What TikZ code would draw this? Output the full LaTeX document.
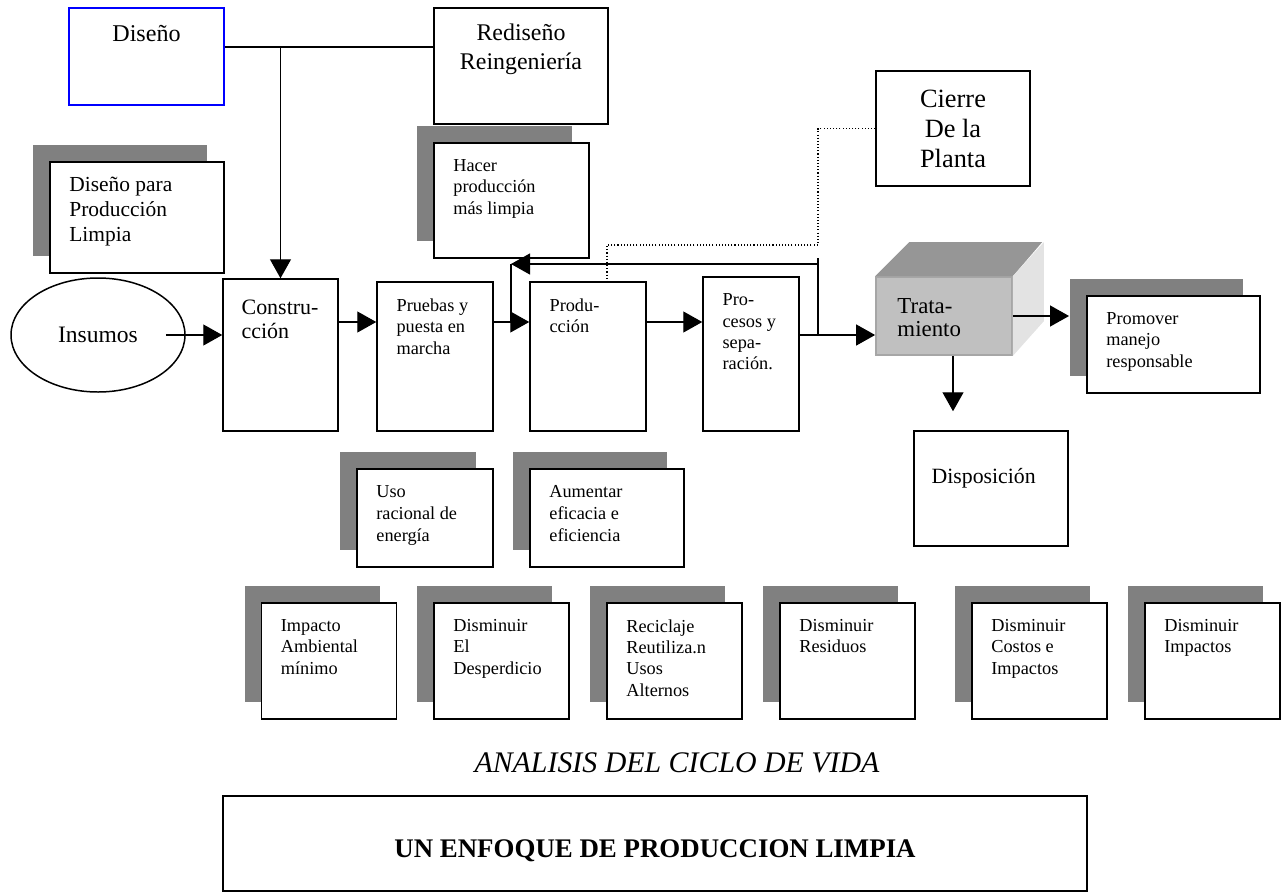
\documentclass[tikz,border=0pt]{standalone}
\usepackage{fontspec}
\setmainfont{Liberation Serif}
\usetikzlibrary{arrows.meta,positioning,shadows,shapes.geometric}
\definecolor{shadowgray}{HTML}{808080}
\definecolor{frontgray}{HTML}{C0C0C0}
\definecolor{topgray}{HTML}{969696}
\definecolor{sidegray}{HTML}{E3E3E3}
\newcommand{\setsz}[2]{\fontsize{#1}{#2}\selectfont}
\tikzset{
  box/.style={draw, line width=0.85pt, inner sep=0pt},
  shbox/.style={box, line width=1.1pt, fill=white,
    drop shadow={shadow xshift=-3.4mm, shadow yshift=3.4mm, fill=shadowgray, opacity=1}},
  txt/.style={inner sep=0pt, align=left, font=\setsz{10.4}{12.2}},
  inbox/.style={below right=3.4mm and 4mm of #1.north west},
  arr/.style={line width=0.7pt, -{Triangle[length=3.8mm, width=4.2mm]}},
  dotline/.style={line width=0.6pt, dash pattern=on 0.6pt off 1.2pt},
}
\begin{document}
\begin{tikzpicture}[x=0.2mm, y=-0.2mm]
\useasboundingbox (0,0) rectangle (1285,893);
% top row
\node[box, draw=blue, line width=0.7pt, minimum width=31mm, minimum height=19.4mm] (diseno) at (146.5,56.5){};
\node[inner sep=0pt, anchor=north, font=\setsz{13.7}{16}] (disenotxt) at ([yshift=-3.5mm]diseno.north){Diseño};
\node[box, minimum width=34.8mm, minimum height=23.2mm] (rediseno) at (521,66){};
\node[inner sep=0pt, anchor=north, align=center, font=\setsz{13.6}{16.5}] (redisenotxt) at ([yshift=-3.3mm]rediseno.north){Rediseño\\Reingeniería};
\node[box, minimum width=30.8mm, minimum height=23mm, align=center, font=\setsz{15}{17.1}] (cierre) at (953,128.5){Cierre\\De la\\Planta};
\node[shbox, minimum width=34.8mm, minimum height=22.2mm] (disenopl) at (137,217.5){};
\node[txt, below right=3.1mm and 4mm of disenopl.north west, font=\setsz{12.2}{14.2}] (disenopltxt){Diseño para\\Producción\\Limpia};
\node[shbox, minimum width=31mm, minimum height=23mm] (hacer) at (511.5,200.5){};
\node[txt, inbox=hacer] (hacertxt){Hacer\\producción\\más limpia};
% main flow
\node[draw, ellipse, line width=0.85pt, minimum width=34.8mm, minimum height=22.8mm, inner sep=0pt, font=\setsz{13.4}{16}] (insumos) at (98,335){Insumos};
\node[box, minimum width=23mm, minimum height=30.4mm] (construccion) at (280.5,355){};
\node[txt, below right=4.2mm and 3.8mm of construccion.north west, font=\setsz{12.5}{13.7}] (construcciontxt){Constru-\\cción};
\node[box, minimum width=23.2mm, minimum height=29.8mm] (pruebas) at (435,356.5){};
\node[txt, inbox=pruebas] (pruebastxt){Pruebas y\\puesta en\\marcha};
\node[box, minimum width=23.2mm, minimum height=29.8mm] (produccion) at (588,356.5){};
\node[txt, inbox=produccion] (producciontxt){Produ-\\cción};
\node[box, minimum width=19.2mm, minimum height=30.8mm] (procesos) at (751,354){};
\node[txt, inbox=procesos] (procesostxt){Pro-\\cesos y\\sepa-\\ración.};
\node[draw=gray!70, fill=frontgray, line width=1pt, minimum width=27.2mm, minimum height=15.6mm, inner sep=0pt] (tratamiento) at (944,316){};
\fill[topgray] (tratamiento.north west) -- ++(34,-34) -- ++(133,0) -- (tratamiento.north east) -- cycle;
\fill[sidegray] (tratamiento.north east) -- ++(31,-34) -- ++(0,79) -- (tratamiento.south east) -- cycle;
\node[txt, below right=4.4mm and 4.4mm of tratamiento.north west, font=\setsz{13}{13.1}] (tratamientotxt){Trata-\\miento};
\node[shbox, minimum width=34.6mm, minimum height=19.4mm] (promover) at (1173.5,344.5){};
\node[txt, inbox=promover] (promovertxt){Promover\\manejo\\responsable};
\node[box, minimum width=30.8mm, minimum height=23mm] (disposicion) at (991,488.5){};
\node[txt, below right=7.5mm and 3.6mm of disposicion.north west, font=\setsz{12.4}{14}] (disposiciontxt){Disposición};
% goals
\node[shbox, minimum width=27.2mm, minimum height=19.6mm] (uso) at (425,518){};
\node[txt, inbox=uso, font=\setsz{10.4}{12.6}] (usotxt){Uso\\racional de\\energía};
\node[shbox, minimum width=30.8mm, minimum height=19.6mm] (aumentar) at (607,518){};
\node[txt, inbox=aumentar, font=\setsz{10.4}{12.6}] (aumentartxt){Aumentar\\eficacia e\\eficiencia};
\node[shbox, minimum width=27mm, minimum height=23.2mm] (impacto) at (329,661){};
\node[txt, inbox=impacto] (impactotxt){Impacto\\Ambiental\\mínimo};
\node[shbox, minimum width=27mm, minimum height=23.2mm] (desperdicio) at (501.5,661){};
\node[txt, inbox=desperdicio] (desperdiciotxt){Disminuir\\El\\Desperdicio};
\node[shbox, minimum width=27mm, minimum height=23.2mm] (reciclaje) at (674.5,661){};
\node[txt, inbox=reciclaje] (reciclajetxt){Reciclaje\\Reutiliza.n\\Usos\\Alternos};
\node[shbox, minimum width=27mm, minimum height=23.2mm] (residuos) at (847.5,661){};
\node[txt, inbox=residuos] (residuostxt){Disminuir\\Residuos};
\node[shbox, minimum width=27mm, minimum height=23.2mm] (costos) at (1039.5,661){};
\node[txt, inbox=costos] (costostxt){Disminuir\\Costos e\\Impactos};
\node[shbox, minimum width=27mm, minimum height=23.2mm] (impactos) at (1212.5,661){};
\node[txt, inbox=impactos] (impactostxt){Disminuir\\Impactos};
\node[inner sep=0pt, font=\setsz{17}{20}\itshape] (ciclo) at (677,763){ANALISIS DEL CICLO DE VIDA};
\node[box, line width=1.1pt, minimum width=172.8mm, minimum height=19mm, text height=6.2mm, text depth=0.8mm, font=\setsz{15.3}{18}\bfseries] (enfoque) at (655,843.5){UN ENFOQUE DE PRODUCCION LIMPIA};
% connectors
\coordinate (split) at (280.5,47);
\coordinate (flow) at (0,322);
\coordinate (out) at (818,335);
\coordinate (fb) at (818,264);
\coordinate (fbend) at (511,264);
\coordinate (dotbend) at (818,245);
\draw[line width=0.7pt] (diseno.east |- split) -- (rediseno.west |- split);
\draw[arr] (split) -- (construccion.north);
\draw[arr] ([xshift=-4mm]insumos.east) -- (insumos -| construccion.west);
\draw[arr] (construccion.east |- flow) -- (pruebas.west |- flow);
\draw[arr] (pruebas.east |- flow) -- (produccion.west |- flow);
\draw[arr] (produccion.east |- flow) -- (procesos.west |- flow);
\draw[arr] (procesos.east |- out) -- (tratamiento.west |- out);
\draw[line width=0.7pt] (out) -- ([yshift=1.2mm]fb);
\draw[arr] (fb) -- (fbend);
\draw[line width=0.7pt] (fbend) -- (fbend |- flow);
\draw[dotline] (cierre.west) -| (dotbend) -| ([xshift=3.8mm]produccion.north);
\draw[arr, shorten >=3.4mm] (tratamiento.east) -- (tratamiento -| promover.west);
\draw[arr, shorten >=3.8mm] ([xshift=1.8mm]tratamiento.south) -- ([xshift=1.8mm]tratamiento.south |- disposicion.north);
\end{tikzpicture}
\end{document}
